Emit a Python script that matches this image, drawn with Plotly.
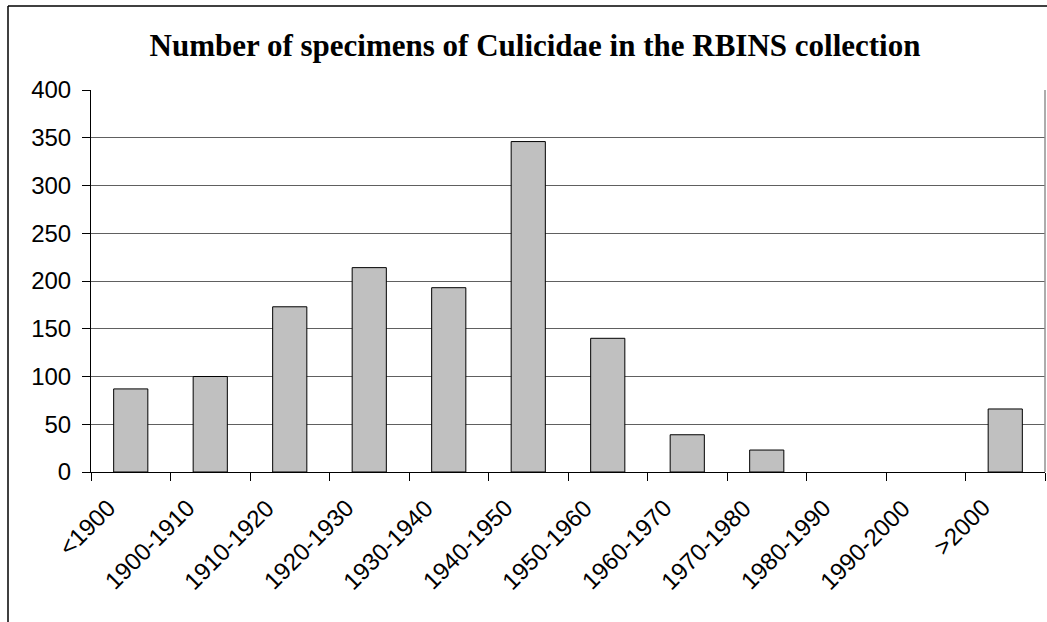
import plotly.graph_objects as go

categories = ["<1900", "1900-1910", "1910-1920", "1920-1930", "1930-1940", "1940-1950",
              "1950-1960", "1960-1970", "1970-1980", "1980-1990", "1990-2000", ">2000"]
specimens = [87, 100, 173, 214, 193, 346, 140, 39, 23, 0, 0, 66]
y_ticks = [0, 50, 100, 150, 200, 250, 300, 350, 400]

W, H = 1047, 622
L, R, T, B = 91, 2, 90, 150
pw, ph = W - L - R, H - T - B

fig = go.Figure()
fig.add_trace(go.Bar(
    x=categories, y=specimens,
    marker=dict(color="#C0C0C0",
                line=dict(color="#000000", width=[1 if v > 0 else 0 for v in specimens])),
    hoverinfo="x+y",
))

# rotated category labels
for c in categories:
    fig.add_annotation(
        x=c, y=0, xref="x", yref="y", text=c, showarrow=False,
        textangle=-45, xanchor="right", yanchor="top",
        xshift=-8, yshift=-19,
        font=dict(family="Liberation Sans, Arial, sans-serif", size=24, color="black"),
    )

fig.update_layout(
    width=W, height=H,
    margin=dict(l=L, r=R, t=T, b=B, pad=0),
    paper_bgcolor="white", plot_bgcolor="white",
    showlegend=False,
    bargap=0.57,
    title=dict(
        text="<b>Number of specimens of Culicidae in the RBINS collection</b>",
        font=dict(family="Liberation Serif, Times New Roman, serif", size=31, color="black"),
        x=535 / W, xref="container", xanchor="center",
        y=1 - 45 / H, yref="container", yanchor="middle",
    ),
    font=dict(family="Liberation Sans, Arial, sans-serif", color="black"),
    xaxis=dict(
        type="category",
        range=[-0.5, len(categories) - 0.5],
        showticklabels=False,
        showline=True, linecolor="black", linewidth=1,
        ticks="outside", ticklen=8, tickcolor="black", tickwidth=1,
        tickson="boundaries",
        showgrid=False,
    ),
    yaxis=dict(
        range=[0, 400],
        tickvals=y_ticks,
        tickfont=dict(size=24, color="black"),
        showline=True, linecolor="black", linewidth=1,
        ticks="outside", ticklen=8, tickcolor="black", tickwidth=1,
        showgrid=True, gridcolor="#606060", gridwidth=1,
        zeroline=False,
        ticklabelstandoff=6,
    ),
)

# outer chart frame (left and top edges visible in the reference)
fx = (8 - L) / pw
fy = 1 + (T - 6) / ph
fig.add_shape(type="line", xref="paper", yref="paper",
              x0=fx, x1=fx, y0=-1.0, y1=fy, line=dict(color="black", width=1.5))
fig.add_shape(type="line", xref="paper", yref="paper",
              x0=fx, x1=1.2, y0=fy, y1=fy, line=dict(color="black", width=1.5))
# plot area right border
fig.add_shape(type="line", xref="paper", yref="paper",
              x0=1, x1=1, y0=0, y1=1, line=dict(color="#909090", width=1.5))

fig.write_html("out.html", config={"displayModeBar": False},
               post_script="document.body.style.margin='0px';")
